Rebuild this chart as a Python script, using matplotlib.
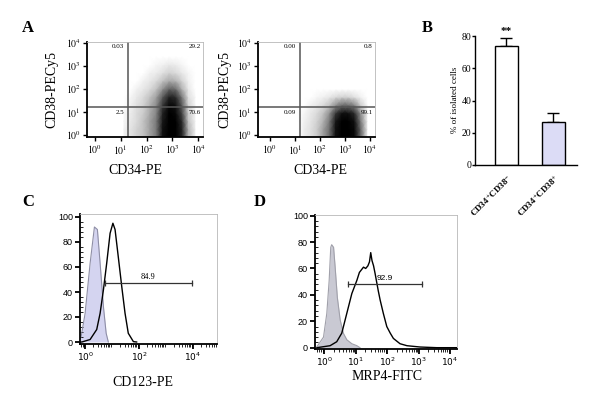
import matplotlib
matplotlib.use("Agg")
import matplotlib.pyplot as plt
from matplotlib.ticker import MultipleLocator
from matplotlib.colors import PowerNorm
import numpy as np

plt.rcParams['font.family'] = 'Liberation Serif'
plt.rcParams['mathtext.fontset'] = 'stix'

W, H = 600, 394

# ---- A: dot plots, density (log10 units)
a_cols = [1.125, 1.375, 1.625, 1.875, 2.125, 2.375, 2.625, 2.875, 3.125, 3.375, 3.625, 3.875]
a_rows = [-0.1, 0.25, 0.6, 0.95, 1.3, 1.65, 2.0, 2.35, 2.7, 3.05, 3.4]
a1_dens = [
    [0.02, 0.05, 0.1, 0.15, 0.25, 0.4, 0.9, 1.0, 1.0, 0.8, 0.2, 0.03],
    [0.02, 0.05, 0.1, 0.15, 0.25, 0.4, 0.9, 1.0, 1.0, 0.8, 0.2, 0.03],
    [0.01, 0.04, 0.08, 0.15, 0.25, 0.4, 0.85, 1.0, 1.0, 0.75, 0.15, 0.02],
    [0.01, 0.03, 0.08, 0.12, 0.22, 0.35, 0.8, 1.0, 0.95, 0.65, 0.12, 0.02],
    [0, 0.02, 0.06, 0.1, 0.2, 0.32, 0.7, 0.95, 0.9, 0.55, 0.1, 0.01],
    [0, 0.01, 0.04, 0.08, 0.15, 0.25, 0.55, 0.8, 0.75, 0.4, 0.06, 0.01],
    [0, 0, 0.02, 0.04, 0.08, 0.15, 0.3, 0.5, 0.45, 0.2, 0.04, 0],
    [0, 0, 0, 0.02, 0.04, 0.08, 0.15, 0.22, 0.2, 0.1, 0.02, 0],
    [0, 0, 0, 0, 0.02, 0.03, 0.06, 0.1, 0.08, 0.04, 0.01, 0],
    [0, 0, 0, 0, 0, 0.01, 0.02, 0.04, 0.03, 0.01, 0, 0],
    [0, 0, 0, 0, 0, 0, 0, 0, 0, 0, 0, 0],
]
a2_dens = [
    [0, 0.03, 0.06, 0.12, 0.25, 0.45, 0.9, 1.0, 1.0, 0.95, 0.5, 0.05],
    [0, 0.03, 0.06, 0.12, 0.25, 0.45, 0.9, 1.0, 1.0, 0.95, 0.5, 0.05],
    [0, 0.02, 0.05, 0.1, 0.2, 0.4, 0.85, 1.0, 1.0, 0.9, 0.4, 0.04],
    [0, 0.01, 0.04, 0.08, 0.15, 0.3, 0.7, 0.9, 0.9, 0.75, 0.3, 0.03],
    [0, 0, 0.02, 0.04, 0.08, 0.15, 0.3, 0.45, 0.45, 0.35, 0.12, 0.01],
    [0, 0, 0, 0.01, 0.02, 0.04, 0.08, 0.1, 0.1, 0.06, 0.02, 0],
    [0, 0, 0, 0, 0, 0, 0, 0, 0, 0, 0, 0],
    [0, 0, 0, 0, 0, 0, 0, 0, 0, 0, 0, 0],
    [0, 0, 0, 0, 0, 0, 0, 0, 0, 0, 0, 0],
    [0, 0, 0, 0, 0, 0, 0, 0, 0, 0, 0, 0],
    [0, 0, 0, 0, 0, 0, 0, 0, 0, 0, 0, 0],
]
a1_quad = ["0.03", "29.2", "2.5", "70.6"]
a2_quad = ["0.00", "0.8", "0.09", "99.1"]
a1_gate = (1.28, 1.22)
a2_gate = (1.2, 1.22)

# ---- B: bar chart
b_groups = [r"CD34$^{+}$CD38$^{-}$", r"CD34$^{+}$CD38$^{+}$"]
b_means = [73.5, 26.5]
b_err = [5.5, 5.5]

# ---- C: CD123 histogram (x in log10 units)
c_iso_x = [-0.19, -0.15, 0.0, 0.185, 0.345, 0.455, 0.556, 0.68, 0.78, 0.86]
c_iso_y = [3, 4, 23, 63, 92, 90, 63, 28, 7, 0]
c_x = [-0.19, -0.12, 0.185, 0.43, 0.556, 0.68, 0.80, 0.926, 1.03, 1.11, 1.23, 1.36, 1.48, 1.60, 1.79, 1.91]
c_y = [0, 0, 2, 10, 23, 42, 63, 87, 95, 90, 68, 44, 23, 7, 0.3, 0]
c_gate = (0.74, 3.95, 47, "84.9")

# ---- D: MRP4 histogram (x in log10 units)
d_iso_x = [-0.23, -0.02, 0.085, 0.16, 0.21, 0.24, 0.30, 0.35, 0.42, 0.51, 0.61, 0.72, 0.88, 1.04, 1.14]
d_iso_y = [0.75, 8, 26, 51, 76, 78, 76, 61, 38, 21, 11, 6, 3, 1.5, 0]
d_x = [-0.23, 0.19, 0.40, 0.56, 0.72, 0.88, 1.04, 1.12, 1.25, 1.32, 1.39, 1.44, 1.48, 1.52, 1.57,
       1.62, 1.72, 1.78, 1.88, 1.99, 2.10, 2.20, 2.41, 2.63, 3.05, 3.58, 4.2]
d_y = [0, 1.5, 4.5, 11, 26, 41, 51, 57, 61, 60, 62, 65, 72, 66, 62,
       56, 43, 36, 26, 16, 11, 7, 3, 1.5, 0.5, 0, 0]
d_gate = (0.77, 3.1, 48.5, "92.9")

dec_labels = [r"$10^{0}$", r"$10^{1}$", r"$10^{2}$", r"$10^{3}$", r"$10^{4}$"]

fig = plt.figure(figsize=(6, 3.94), dpi=100)


def px_axes(l, t, r, b):
    return fig.add_axes([l / W, 1 - b / H, (r - l) / W, (b - t) / H])


def ftext(x, y, s, **kw):
    fig.text(x / W, 1 - y / H, s, **kw)


def frame(ax):
    for s in ["top", "right"]:
        ax.spines[s].set_color("#B8B8B8")
        ax.spines[s].set_linewidth(0.6)
    for s in ["left", "bottom"]:
        ax.spines[s].set_color("black")
        ax.spines[s].set_linewidth(1.3)


def dot_panel(box, dens, gate, quad, xlo, xhi, qx):
    ax = px_axes(*box)
    ax.set_xscale("log")
    ax.set_yscale("log")
    X, Y = np.meshgrid(10 ** np.array(a_cols), 10 ** np.array(a_rows))
    ax.pcolormesh(X, Y, np.array(dens), shading="gouraud", cmap="Greys",
                  norm=PowerNorm(gamma=0.55, vmin=0, vmax=1), zorder=1)
    ax.set_xlim(10 ** xlo, 10 ** xhi)
    ax.set_ylim(10 ** -0.09, 10 ** 4.04)
    ax.axvline(10 ** gate[0], color="#555555", lw=1.1, zorder=2)
    ax.axhline(10 ** gate[1], color="#555555", lw=1.1, zorder=2)
    ax.set_xticks([1, 10, 100, 1000, 10000])
    ax.set_xticklabels(dec_labels)
    ax.set_yticks([1, 10, 100, 1000, 10000])
    ax.set_yticklabels(dec_labels)
    ax.tick_params(which="major", direction="out", length=3, width=1, labelsize=7, pad=1.5)
    ax.tick_params(which="minor", direction="in", length=2, width=0.5)
    frame(ax)
    l, t, r, b = box
    ftext(qx, 46, quad[0], fontsize=5, ha="right", va="center")
    ftext(r - 2, 46, quad[1], fontsize=5, ha="right", va="center")
    ftext(qx, 113, quad[2], fontsize=5, ha="right", va="center")
    ftext(r - 2, 113, quad[3], fontsize=5, ha="right", va="center")
    return ax


dot_panel((87, 42, 203, 137), a1_dens, a1_gate, a1_quad, -0.31, 4.19, 124)
dot_panel((258, 42, 375, 137), a2_dens, a2_gate, a2_quad, -0.48, 4.2, 296)
ftext(52, 89, "CD38-PECy5", fontsize=10, rotation=90, ha="center", va="center")
ftext(225, 89, "CD38-PECy5", fontsize=10, rotation=90, ha="center", va="center")
ftext(135, 170, "CD34-PE", fontsize=10, ha="center", va="center")
ftext(320, 170, "CD34-PE", fontsize=10, ha="center", va="center")

# B
ax = px_axes(475, 36, 577, 165)
ax.bar([0, 1], b_means, width=0.49, color=["white", "#DCDCF6"], edgecolor="black", lw=1, zorder=2)
ax.errorbar([0, 1], b_means, yerr=[[0, 0], b_err], fmt="none", ecolor="black",
            elinewidth=1, capsize=4, capthick=1, zorder=1)
ax.set_xlim(-0.67, 1.5)
ax.set_ylim(0, 80)
ax.set_yticks([0, 20, 40, 60, 80])
ax.set_xticks([0, 1])
ax.set_xticklabels(b_groups, rotation=45, ha="right", va="top", rotation_mode="anchor",
                   fontsize=6.5, fontweight="bold")
ax.tick_params(axis="y", labelsize=7, length=2, width=1, pad=0.5)
ax.tick_params(axis="x", length=0, pad=5)
for s in ["top", "right"]:
    ax.spines[s].set_visible(False)
ax.spines["left"].set_linewidth(1)
ax.spines["bottom"].set_linewidth(1)
ax.text(0, b_means[0] + b_err[0] + 1, "**", ha="center", va="bottom", fontsize=8, fontweight="bold")
ftext(455, 100, "% of isolated cells", fontsize=6.5, rotation=90, ha="center", va="center")


def hist_panel(box, xlim, ylim, iso_x, iso_y, iso_fc, iso_ec, xs, ys, gate, gfont):
    ax = px_axes(*box)
    ax.set_xscale("log")
    ax.fill_between(10 ** np.array(iso_x), iso_y, color=iso_fc, lw=0, zorder=1)
    ax.plot(10 ** np.array(iso_x), iso_y, color=iso_ec, lw=0.8, zorder=2)
    ax.plot(10 ** np.array(xs), ys, color="black", lw=1, zorder=3)
    g0, g1, gy, gl = gate
    ax.plot([10 ** g0, 10 ** g1], [gy, gy], color="#333333", lw=0.9, marker="|", markersize=5,
            markeredgewidth=0.9, zorder=4)
    ax.text(10 ** ((g0 + g1) / 2 + 0.0), gy + 1.5, gl, ha="center", va="bottom", fontsize=6,
            family=gfont, zorder=4)
    ax.set_xlim(10 ** xlim[0], 10 ** xlim[1])
    ax.set_ylim(*ylim)
    ax.set_yticks([0, 20, 40, 60, 80, 100])
    ax.yaxis.set_minor_locator(MultipleLocator(4))
    ax.set_yticklabels(["0", "20", "40", "60", "80", "100"], family="Liberation Sans")
    ax.tick_params(which="major", direction="out", length=3.5, width=1.3, labelsize=6.5, pad=1.5)
    ax.tick_params(which="minor", direction="out", length=2, width=0.6)
    ax.tick_params(axis="y", which="minor", direction="in")
    frame(ax)
    return ax


ax = hist_panel((80, 214, 217, 344), (-0.19, 4.89), (-1.6, 102.4), c_iso_x, c_iso_y,
                "#D4D4F0", "#8E8EA6", c_x, c_y, c_gate, "Liberation Serif")
ax.set_xticks([1, 100, 10000])
ax.set_xticklabels([dec_labels[0], dec_labels[2], dec_labels[4]], family="Liberation Sans",
                   math_fontfamily="dejavusans")

ax = hist_panel((315, 215, 457, 349), (-0.29, 4.22), (-1, 100.5), d_iso_x, d_iso_y,
                "#C9C9D3", "#A0A0AA", d_x, d_y, d_gate, "Liberation Sans")
ax.set_xticks([1, 10, 100, 1000, 10000])
ax.set_xticklabels(dec_labels, family="Liberation Sans", math_fontfamily="dejavusans")

ftext(143, 382, "CD123-PE", fontsize=10, ha="center", va="center")
ftext(387, 377, "MRP4-FITC", fontsize=10, ha="center", va="center")

for lab, x, y in [("A", 27.5, 28), ("B", 427, 28), ("C", 28, 202), ("D", 260, 202)]:
    ftext(x, y, lab, fontsize=12, fontweight="bold", ha="center", va="center")

fig.savefig("out.png", dpi=100)
